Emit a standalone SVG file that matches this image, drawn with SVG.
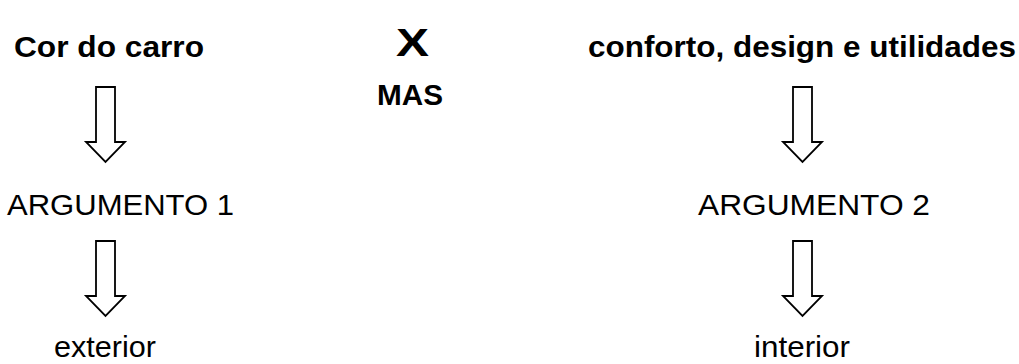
<svg xmlns="http://www.w3.org/2000/svg" width="1019" height="364" viewBox="0 0 1019 364">
  <defs>
    <style>
      .bold { font-family: "Liberation Sans", Arial, sans-serif; font-weight: bold; font-size: 29px; fill: #000; }
      .reg { font-family: "Liberation Sans", Arial, sans-serif; font-size: 29px; fill: #000; }
      .arrow { fill: #fff; stroke: #000; stroke-width: 1.8; stroke-linejoin: miter; }
    </style>
    <!-- hollow block arrow pointing down, origin at the top centre of the shaft -->
    <path id="blockArrow" d="M -9.5 0 L 9.5 0 L 9.5 55 L 19.5 55 L 0 75 L -19.5 55 L -9.5 55 Z"/>
  </defs>
  <rect width="1019" height="364" fill="#fff"/>

  <g id="cor-do-carro">
    <text class="bold" x="14" y="57" textLength="190" lengthAdjust="spacingAndGlyphs">Cor do carro</text>
  </g>
  <g id="versus">
    <text class="bold" x="396" y="56" style="font-size:39px" textLength="33" lengthAdjust="spacingAndGlyphs">X</text>
  </g>
  <g id="mas">
    <text class="bold" x="377" y="105" textLength="66" lengthAdjust="spacingAndGlyphs">MAS</text>
  </g>
  <g id="conforto">
    <text class="bold" x="588" y="57" textLength="428" lengthAdjust="spacingAndGlyphs">conforto, design e utilidades</text>
  </g>
  <g id="argumento-1">
    <text class="reg" x="7" y="214.5" textLength="227" lengthAdjust="spacingAndGlyphs">ARGUMENTO 1</text>
  </g>
  <g id="argumento-2">
    <text class="reg" x="698" y="214.5" textLength="232" lengthAdjust="spacingAndGlyphs">ARGUMENTO 2</text>
  </g>
  <g id="exterior">
    <text class="reg" x="54" y="357" textLength="102" lengthAdjust="spacingAndGlyphs">exterior</text>
  </g>
  <g id="interior">
    <text class="reg" x="754" y="357" textLength="96" lengthAdjust="spacingAndGlyphs">interior</text>
  </g>

  <g id="connectors">
    <use href="#blockArrow" class="arrow" x="105.5" y="87"/>
    <use href="#blockArrow" class="arrow" x="105.5" y="241"/>
    <use href="#blockArrow" class="arrow" x="802.5" y="87"/>
    <use href="#blockArrow" class="arrow" x="802.5" y="241"/>
  </g>
</svg>
